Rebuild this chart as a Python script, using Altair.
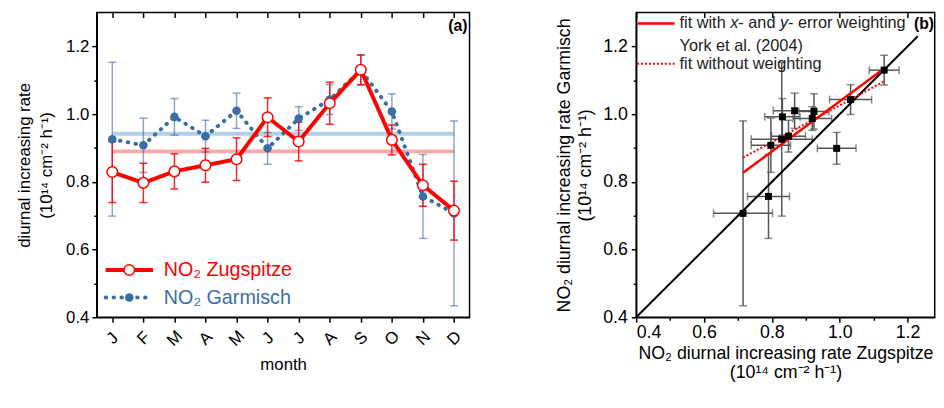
import json
import altair as alt
import pandas as pd

# ---------------- data ----------------
month_labels = ["J", "F", "M", "A", "M", "J", "J", "A", "S", "O", "N", "D"]
month_idx = list(range(1, 13))
zug = [0.829, 0.797, 0.831, 0.849, 0.867, 0.991, 0.919, 1.032, 1.131, 0.924, 0.790, 0.715]
zug_err = [0.090, 0.058, 0.052, 0.050, 0.063, 0.057, 0.057, 0.062, 0.044, 0.044, 0.062, 0.087]
gar = [0.926, 0.908, 0.992, 0.935, 1.010, 0.899, 0.987, 1.043, 1.130, 1.008, 0.757, 0.707]
gar_err = [0.227, 0.080, 0.054, 0.047, 0.052, 0.047, 0.035, 0.044, 0.044, 0.052, 0.124, 0.273]
mean_zug = 0.890
mean_gar = 0.942
fit_weighted = (0.741, 0.297)      # slope, intercept (York et al. 2004)
fit_unweighted = (0.542, 0.484)    # slope, intercept
one_to_one = [0.4, 1.23]

RED = "#ff0000"
BLUE = "#3a6ea5"
FONT = "Liberation Sans"
UNIT = "(10\u00b9\u2074 cm\u207b\u00b2 h\u207b\u00b9)"

df = pd.DataFrame({"m": month_idx, "z": zug, "zerr": zug_err, "g": gar, "gerr": gar_err})
df["zlo"] = df["z"] - df["zerr"]
df["zhi"] = df["z"] + df["zerr"]
df["glo"] = df["g"] - df["gerr"]
df["ghi"] = df["g"] + df["gerr"]

means = pd.DataFrame({"s": ["Garmisch", "Zugspitze"], "v": [mean_gar, mean_zug],
                      "a": [month_idx[0]] * 2, "b": [month_idx[-1]] * 2})

xmin, xmax = min(zug), max(zug)
fits = pd.DataFrame({
    "x": [xmin, xmax, xmin, xmax],
    "y": [fit_weighted[0] * xmin + fit_weighted[1], fit_weighted[0] * xmax + fit_weighted[1],
          fit_unweighted[0] * xmin + fit_unweighted[1], fit_unweighted[0] * xmax + fit_unweighted[1]],
    "k": ["w", "w", "u", "u"]})
diag = pd.DataFrame({"x": one_to_one, "y": one_to_one})
one = pd.DataFrame({"k": [0]})

# ---------------- axes / scales ----------------
label_expr = f"{json.dumps(month_labels)}[datum.value - 1]"
num_labels = "round(datum.value*10) % 2 == 0 ? format(datum.value, '.1f') : ''"
minor_cond = {"condition": {"test": "round(datum.value*10) % 2 == 1", "value": 3}, "value": 5}
yticks = [round(0.4 + 0.1 * i, 1) for i in range(9)]
xticks_r = [round(0.4 + 0.1 * i, 1) for i in range(9)]
xmajor_r = [0.4, 0.6, 0.8, 1.0, 1.2]

ysc = alt.Scale(domain=[0.4, 1.3], nice=False, zero=False)
xsc_r = alt.Scale(domain=[0.4, 1.28], nice=False, zero=False)
xsc_l = alt.Scale(type="point", padding=0.5)

yax_l = alt.Axis(title=["diurnal increasing rate", UNIT], values=yticks, labelExpr=num_labels,
                 tickSize=minor_cond, labelFontSize=17, titleFontSize=17, titleLineHeight=23,
                 titlePadding=10, labelPadding=3)
xax_l = alt.Axis(title="month", labelExpr=label_expr, labelAngle=-45, labelAlign="center",
                 labelBaseline="middle", labelPadding=16, tickSize=5, labelFontSize=17,
                 titleFontSize=17, titlePadding=8)
x_m = alt.X("m:O", scale=xsc_l, axis=xax_l)
inward_top = dict(orient="top", labels=False, title=None, domain=False, tickSize=alt.ExprRef(expr="-5"))


def yl(field):
    return alt.Y(field, type="quantitative", scale=ysc, axis=yax_l)


base = alt.Chart(df)

mean_lines = alt.Chart(means).mark_rule(strokeWidth=4).encode(
    x=alt.X("a:O", scale=xsc_l, axis=xax_l), x2="b",
    y=yl("v"),
    color=alt.Color("s:N", scale=alt.Scale(domain=["Garmisch", "Zugspitze"],
                                          range=["#b3cfe8", "#f9a9a9"]), legend=None))

g_bar = base.mark_rule(color=BLUE, strokeWidth=1.5, opacity=0.6).encode(x=x_m, y=yl("glo"), y2="ghi")
g_cap1 = base.mark_tick(color=BLUE, orient="horizontal", size=8, thickness=1.5, opacity=0.6).encode(x=x_m, y=yl("glo"))
g_cap2 = base.mark_tick(color=BLUE, orient="horizontal", size=8, thickness=1.5, opacity=0.6).encode(x=x_m, y=yl("ghi"))
z_bar = base.mark_rule(color=RED, strokeWidth=1.5, opacity=0.85).encode(x=x_m, y=yl("zlo"), y2="zhi")
z_cap1 = base.mark_tick(color=RED, orient="horizontal", size=8, thickness=1.5, opacity=0.85).encode(x=x_m, y=yl("zlo"))
z_cap2 = base.mark_tick(color=RED, orient="horizontal", size=8, thickness=1.5, opacity=0.85).encode(x=x_m, y=yl("zhi"))

g_line = base.mark_line(color=BLUE, strokeWidth=4, strokeDash=[0.5, 7.5], strokeCap="round").encode(x=x_m, y=yl("g"))
g_pts = base.mark_circle(color=BLUE, size=75, opacity=1).encode(x=x_m, y=yl("g"))
z_line = base.mark_line(color=RED, strokeWidth=4).encode(x=x_m, y=yl("z"))
z_pts = base.mark_point(color=RED, fill="white", filled=False, fillOpacity=1, size=115,
                        strokeWidth=1.5, opacity=1).encode(x=x_m, y=yl("z"))

leg = alt.Chart(one)
l_red_line = leg.mark_rule(color=RED, strokeWidth=4).encode(x=alt.value(9), x2=alt.value(57), y=alt.value(261))
l_red_pt = leg.mark_point(color=RED, fill="white", fillOpacity=1, size=115, strokeWidth=1.5, opacity=1).encode(
    x=alt.value(33), y=alt.value(261))
l_red_txt = leg.mark_text(text="NO\u2082 Zugspitze", color=RED, fontSize=20, align="left", baseline="middle").encode(
    x=alt.value(68), y=alt.value(261))
l_blue_line = leg.mark_rule(color=BLUE, strokeWidth=4, strokeDash=[0.5, 7.5], strokeCap="round").encode(
    x=alt.value(9), x2=alt.value(57), y=alt.value(289))
l_blue_pt = leg.mark_circle(color=BLUE, size=75, opacity=1).encode(x=alt.value(33), y=alt.value(289))
l_blue_txt = leg.mark_text(text="NO\u2082 Garmisch", color=BLUE, fontSize=20, align="left", baseline="middle").encode(
    x=alt.value(68), y=alt.value(289))
lab_a = leg.mark_text(text="(a)", fontSize=16, fontWeight="bold", align="right", baseline="middle", color="black").encode(
    x=alt.value(376), y=alt.value(14))

left_main = alt.layer(mean_lines, g_bar, g_cap1, g_cap2, z_bar, z_cap1, z_cap2, g_line, z_line, g_pts, z_pts,
                      l_red_line, l_red_pt, l_red_txt, l_blue_line, l_blue_pt, l_blue_txt, lab_a)
left_top = base.mark_point(opacity=0).encode(x=alt.X("m:O", scale=xsc_l, axis=alt.Axis(**inward_top)),
                                             y=yl("z"))
left = alt.layer(left_main, left_top).resolve_axis(x="independent").properties(width=378, height=309)

# ---------------- right panel ----------------
xax_r = alt.Axis(title=["NO\u2082 diurnal increasing rate Zugspitze", UNIT], values=xticks_r, labelExpr=num_labels,
                 tickSize=minor_cond, labelFontSize=18, titleFontSize=18, titleLineHeight=19,
                 labelPadding=1, titlePadding=4)
yax_r = alt.Axis(title=["NO\u2082 diurnal increasing rate Garmisch", UNIT], values=yticks, labelExpr=num_labels,
                 tickSize=minor_cond, labelFontSize=18, titleFontSize=18, titleLineHeight=22,
                 labelPadding=4, titlePadding=8)


def xr(field):
    return alt.X(field, type="quantitative", scale=xsc_r, axis=xax_r)


def yr(field):
    return alt.Y(field, type="quantitative", scale=ysc, axis=yax_r)


EB = "#555555"
r_vbar = base.mark_rule(color=EB, strokeWidth=1.5).encode(x=xr("z"), y=yr("glo"), y2="ghi")
r_hbar = base.mark_rule(color=EB, strokeWidth=1.5).encode(x=xr("zlo"), x2="zhi", y=yr("g"))
r_c1 = base.mark_tick(color=EB, orient="horizontal", size=8, thickness=1.5).encode(x=xr("z"), y=yr("glo"))
r_c2 = base.mark_tick(color=EB, orient="horizontal", size=8, thickness=1.5).encode(x=xr("z"), y=yr("ghi"))
r_c3 = base.mark_tick(color=EB, orient="vertical", size=8, thickness=1.5).encode(x=xr("zlo"), y=yr("g"))
r_c4 = base.mark_tick(color=EB, orient="vertical", size=8, thickness=1.5).encode(x=xr("zhi"), y=yr("g"))

r_diag = alt.Chart(diag).mark_line(color="black", strokeWidth=2).encode(x=xr("x"), y=yr("y"))
r_fit_w = alt.Chart(fits).transform_filter("datum.k == 'w'").mark_line(color=RED, strokeWidth=2.5).encode(
    x=xr("x"), y=yr("y"))
r_fit_u = alt.Chart(fits).transform_filter("datum.k == 'u'").mark_line(color=RED, strokeWidth=2,
                                                                       strokeDash=[2, 2]).encode(x=xr("x"), y=yr("y"))
r_pts = base.mark_square(color="black", size=50, opacity=1).encode(x=xr("z"), y=yr("g"))

rl_line1 = leg.mark_rule(color=RED, strokeWidth=2.5).encode(x=alt.value(1), x2=alt.value(39), y=alt.value(11))
rl_line2 = leg.mark_rule(color=RED, strokeWidth=2, strokeDash=[2, 2]).encode(x=alt.value(1), x2=alt.value(39),
                                                                            y=alt.value(52))
leg_parts = [("fit with ", "normal", 44), ("x", "italic", 95.3), ("- and ", "normal", 103.6),
             ("y", "italic", 145.8), ("- error weighting", "normal", 154.0)]
rl_txt = [leg.mark_text(text=t, fontStyle=s, fontSize=16.5, align="left", baseline="middle", color="#222").encode(
    x=alt.value(px), y=alt.value(11)) for t, s, px in leg_parts]
rl_york = leg.mark_text(text="York et al. (2004)", fontSize=16.5, align="left", baseline="middle", color="#222").encode(
    x=alt.value(44), y=alt.value(34))
rl_unw = leg.mark_text(text="fit without weighting", fontSize=16.5, align="left", baseline="middle", color="#222").encode(
    x=alt.value(44), y=alt.value(52))
lab_b = leg.mark_text(text="(b)", fontSize=16, fontWeight="bold", align="right", baseline="middle", color="black").encode(
    x=alt.value(302), y=alt.value(12))

right_main = alt.layer(r_vbar, r_hbar, r_c1, r_c2, r_c3, r_c4, r_diag, r_fit_u, r_fit_w, r_pts,
                       rl_line1, rl_line2, *rl_txt, rl_york, rl_unw, lab_b)
right_top = base.mark_point(opacity=0).encode(
    x=alt.X("z:Q", scale=xsc_r, axis=alt.Axis(values=xmajor_r, **inward_top)), y=yr("g"))
right = alt.layer(right_main, right_top).resolve_axis(x="independent").properties(width=302.7, height=309)

chart = alt.hconcat(left, right, spacing=85).properties(
    padding={"left": 6, "top": 0, "right": 0, "bottom": 0}
).configure_view(
    stroke="black", strokeWidth=1.5
).configure_axis(
    domainColor="black", tickColor="black", labelColor="black", titleColor="black",
    labelFont=FONT, titleFont=FONT, domainWidth=1.5, tickWidth=1.5, grid=False,
    titleFontWeight="normal"
).configure_text(font=FONT)

chart.save("out.html", embed_options={"renderer": "svg", "actions": False})
